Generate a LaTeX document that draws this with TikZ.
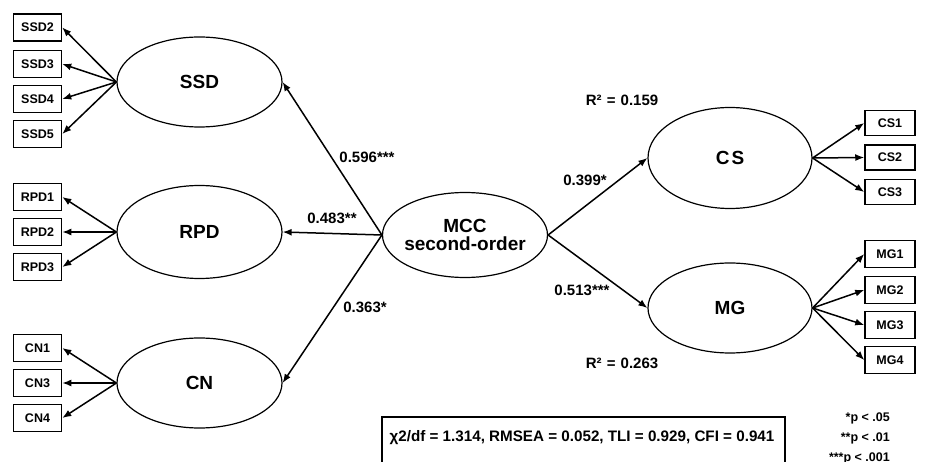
\documentclass[tikz,border=0pt]{standalone}
\usepackage{fontspec}
\setmainfont{Liberation Sans}
\usetikzlibrary{arrows.meta,shapes.geometric}
\tikzset{
  latent/.style={draw, line width=1.2pt, ellipse, inner sep=0pt, minimum width=165pt, font=\fontsize{19}{21}\selectfont\bfseries, align=center},
  indicator/.style={draw, line width=1.5pt, rectangle, inner sep=0pt, minimum width=48pt, minimum height=27pt, font=\fontsize{12.5}{14}\selectfont\bfseries},
  sempath/.style={line width=1.5pt, -{Latex[length=9pt,width=7pt]}},
  coef/.style={font=\fontsize{15}{17}\selectfont\bfseries, inner sep=0pt},
  note/.style={font=\fontsize{12.5}{14}\selectfont\bfseries, inner sep=0pt}
}
\begin{document}
\begin{tikzpicture}[x=1pt, y=-1pt]
\useasboundingbox (0,0) rectangle (927,462);

% first-order factors on the left
\node[latent, minimum height=90pt] (ssd) at (199.5,82) {SSD};
\node[latent, minimum height=93pt] (rpd) at (199.5,232) {RPD};
\node[latent, minimum height=90pt] (cn)  at (199.5,383) {CN};

% second-order factor (negative x padding keeps the outline at its fixed width)
\node[latent, minimum height=85pt, inner xsep=-20pt] (mcc) at (465,235) {MCC\\[-3pt]second-order};

% outcome factors
\node[latent, minimum height=101pt, minimum width=164pt] (cs) at (730,158) {C\kern2pt S};
\node[latent, minimum height=90pt, minimum width=164pt] (mg) at (730,308) {MG};

% indicators of SSD
\node[indicator] (ssd2) at (37.5,27.5) {SSD2};
\node[indicator] (ssd3) at (37.5,64) {SSD3};
\node[indicator] (ssd4) at (37.5,99) {SSD4};
\node[indicator] (ssd5) at (37.5,134) {SSD5};
% indicators of RPD
\node[indicator] (rpd1) at (37.5,197) {RPD1};
\node[indicator] (rpd2) at (37.5,232) {RPD2};
\node[indicator] (rpd3) at (37.5,267) {RPD3};
% indicators of CN
\node[indicator] (cn1) at (37.5,348) {CN1};
\node[indicator] (cn3) at (37.5,383) {CN3};
\node[indicator] (cn4) at (37.5,418) {CN4};
% indicators of CS
\node[indicator, minimum width=50pt, minimum height=25pt] (cs1) at (890,123) {CS1};
\node[indicator, minimum width=50pt, minimum height=25pt] (cs2) at (890,157.5) {CS2};
\node[indicator, minimum width=50pt, minimum height=25pt] (cs3) at (890,192) {CS3};
% indicators of MG
\node[indicator, minimum width=50pt] (mg1) at (890,254) {MG1};
\node[indicator, minimum width=50pt] (mg2) at (890,290) {MG2};
\node[indicator, minimum width=50pt] (mg3) at (890,325) {MG3};
\node[indicator, minimum width=50pt] (mg4) at (890,360) {MG4};

% loadings
\foreach \f/\i in {ssd/ssd2, ssd/ssd3, ssd/ssd4, ssd/ssd5, rpd/rpd1, rpd/rpd2, rpd/rpd3, cn/cn1, cn/cn3, cn/cn4}
  \draw[sempath] (\f.west) -- (\i.east);
\foreach \f/\i in {cs/cs1, cs/cs2, cs/cs3, mg/mg1, mg/mg2, mg/mg3, mg/mg4}
  \draw[sempath] (\f.east) -- (\i.west);

% structural paths
\draw[sempath] (mcc.west) -- (ssd.east);
\draw[sempath] (mcc.west) -- (rpd.east);
\draw[sempath] (mcc.west) -- (cn.east);
\draw[sempath] (mcc.east) -- (cs.west);
\draw[sempath] (mcc.east) -- (mg.west);

% coefficients
\node[coef] (c1) at (367,157) {0.596***};
\node[coef] (c2) at (332,218) {0.483**};
\node[coef] (c3) at (365,307) {0.363*};
\node[coef] (c4) at (585,180) {0.399*};
\node[coef] (c5) at (582,290) {0.513***};
\node[coef] (r1) at (622,100) {R²\kern1pt{} =\kern1pt{} 0.159};
\node[coef] (r2) at (622,363) {R²\kern1pt{} =\kern1pt{} 0.263};

% model fit
\draw[line width=1.2pt] (382,470) -- (382,417) -- (785,417) -- (785,470);
\node[note, font=\fontsize{15.2}{17}\selectfont\bfseries] (fit) at (582,438) {χ2/df = 1.314, RMSEA = 0.052, TLI = 0.929, CFI = 0.941};

% significance levels
\node[note, anchor=east] (p1) at (890,418) {*p < .05};
\node[note, anchor=east] (p2) at (890,438) {**p < .01};
\node[note, anchor=east] (p3) at (890,458) {***p < .001};
\end{tikzpicture}
\end{document}
